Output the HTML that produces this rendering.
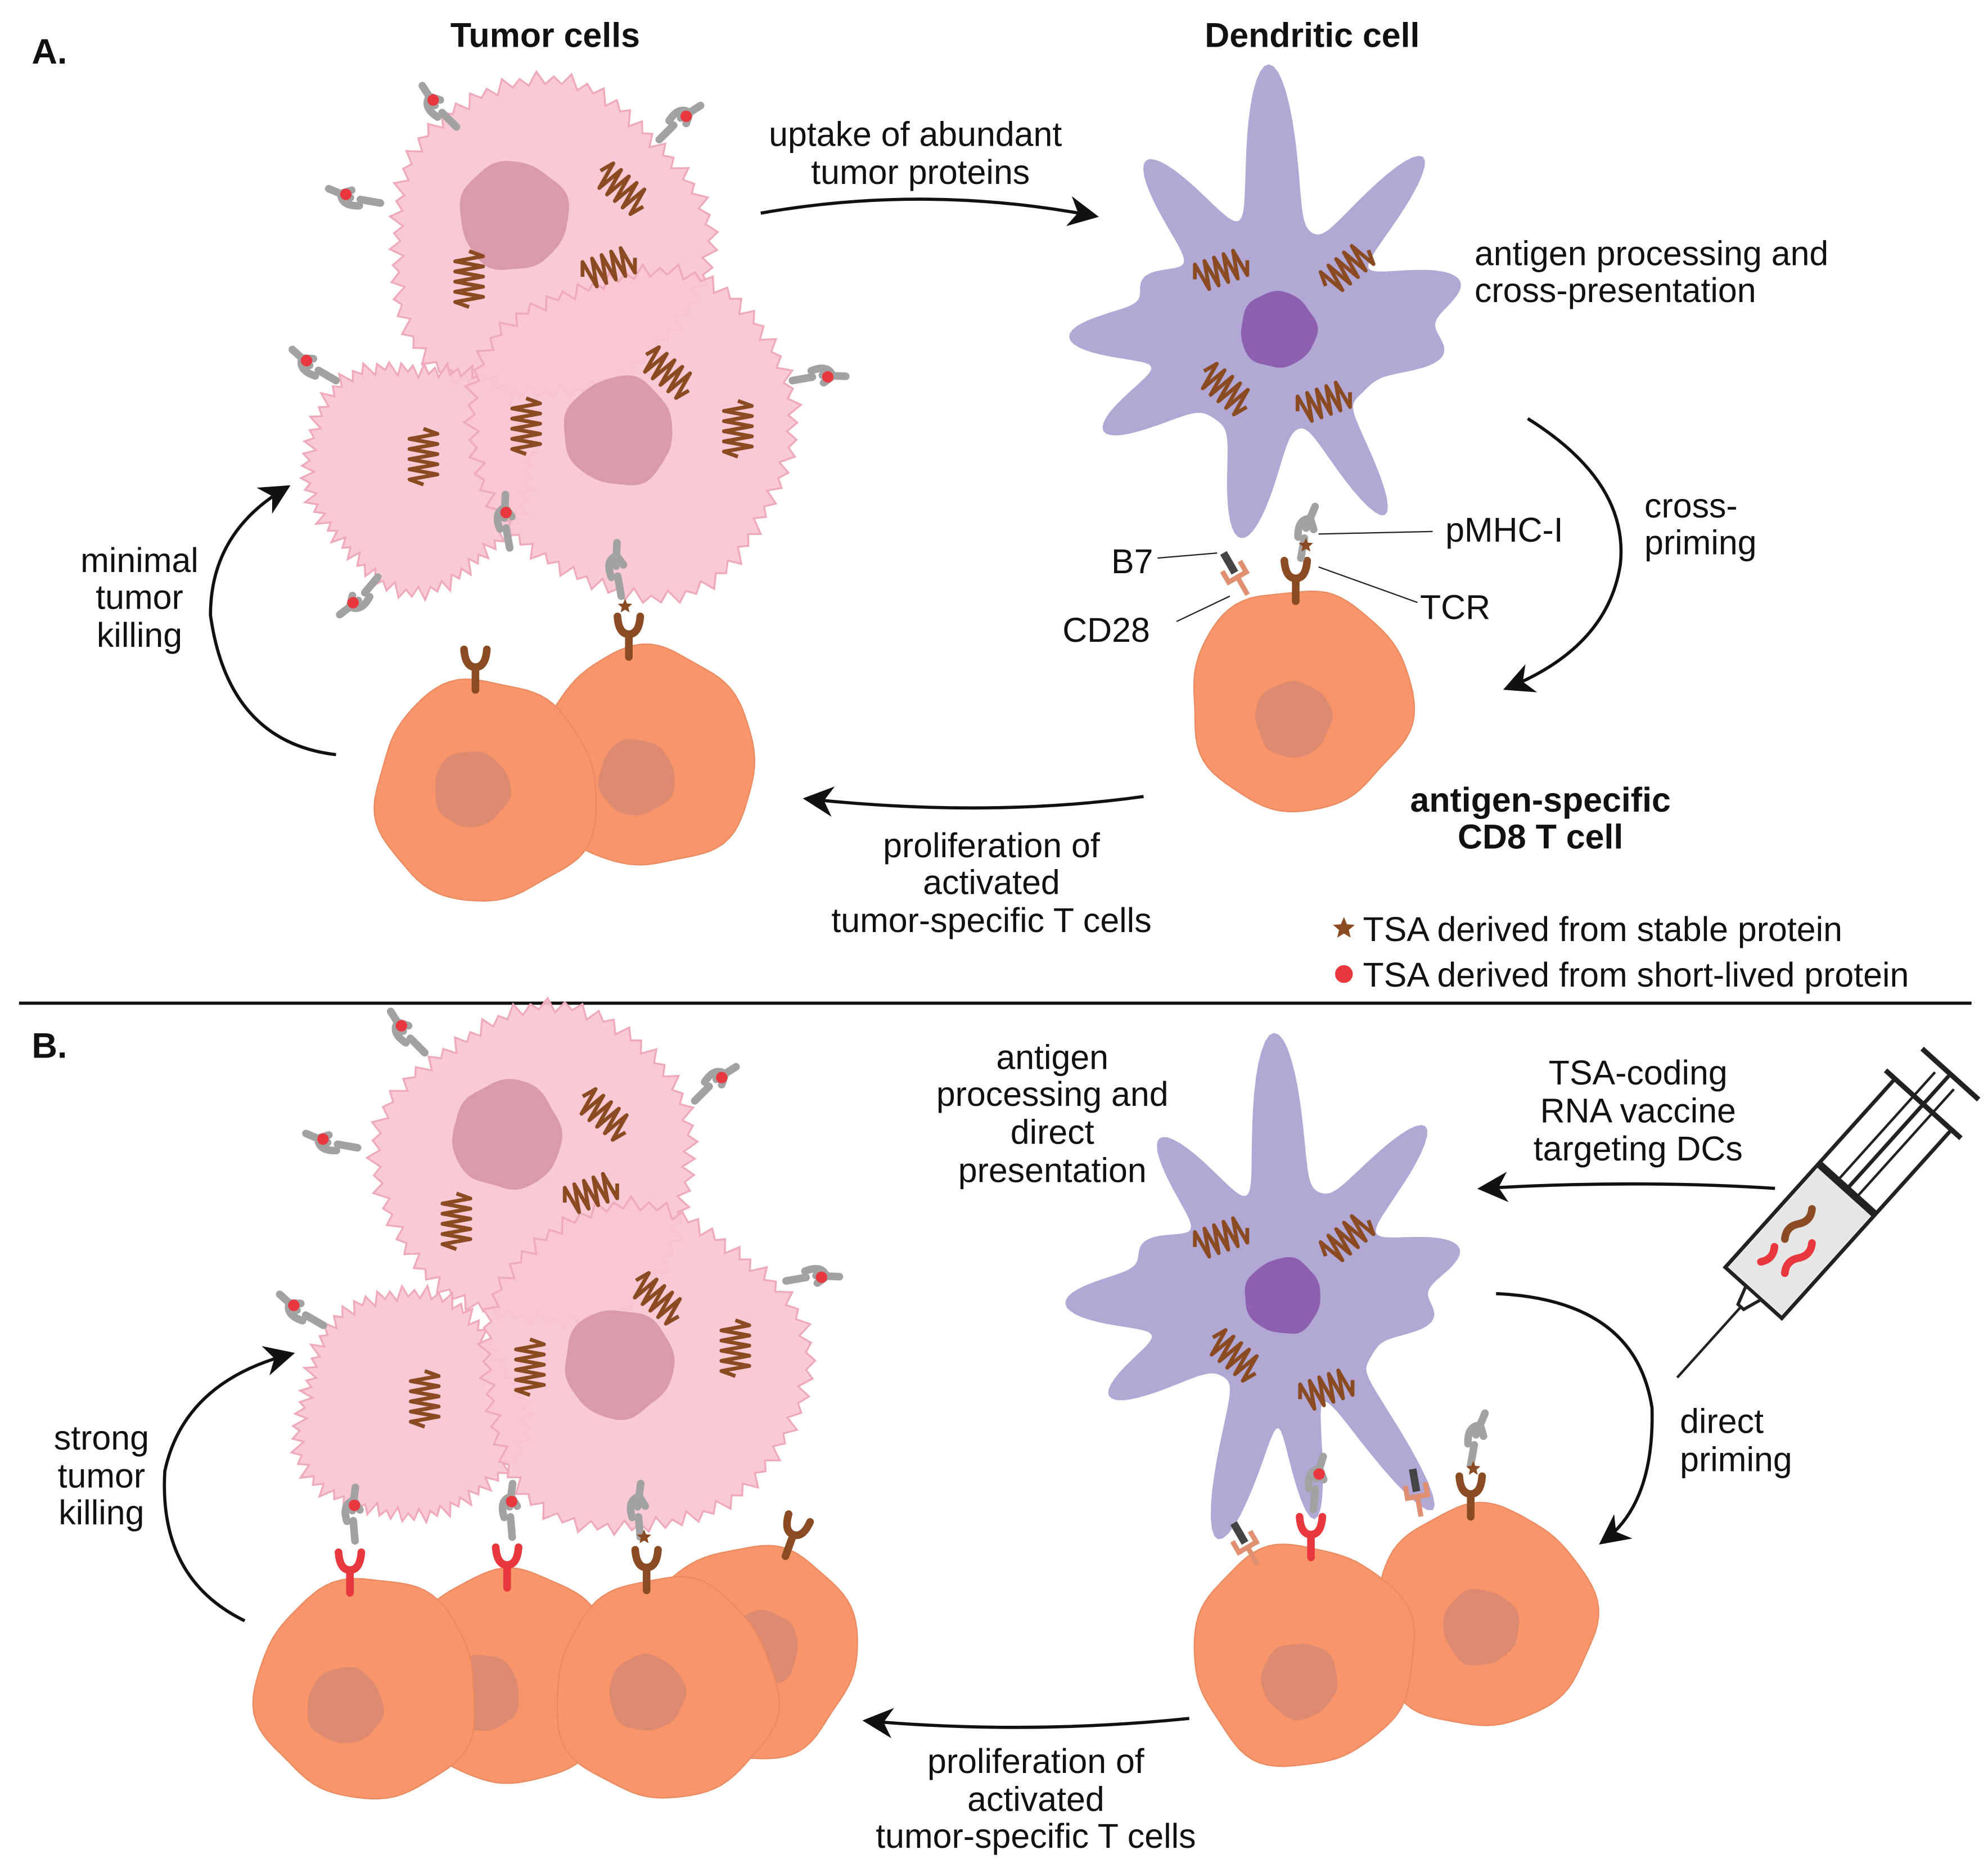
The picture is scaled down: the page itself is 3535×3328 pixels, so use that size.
<!DOCTYPE html>
<html><head><meta charset="utf-8"><style>
html,body{margin:0;padding:0;background:#fff}
svg{display:block}
text{font-family:"Liberation Sans",Arial,sans-serif;fill:#111}
</style></head><body>
<svg id="s" width="3535" height="3328" viewBox="0 0 1568 1476" xmlns="http://www.w3.org/2000/svg">
<defs>
<marker id="ahb" viewBox="0 0 10 10" refX="8" refY="5" markerWidth="24" markerHeight="24" orient="auto" markerUnits="userSpaceOnUse"><path d="M0,0 L10,5 L0,10 L3,5 Z" fill="#111"/></marker>
<g id="sq"><path d="M-24,0 l4,-11 l4,22 l4,-22 l4,22 l4,-22 l4,22 l4,-22 l4,22 l4,-22 l4,22 l4,-11" fill="none" stroke="#8a4b22" stroke-width="3" stroke-linejoin="round"/></g>
<g id="mhc"><path d="M0,0 L0,-16 M-5,-16 Q-8,-30 2,-32 L6,-24 M0,-24 L4,-42" fill="none" stroke="#a2a2a2" stroke-width="6" stroke-linecap="round"/></g>
<g id="tcr"><path d="M0,16 L0,-2 M-9,-16 Q-8,-2 0,-2 Q8,-2 9,-16" fill="none" stroke="#8a4b22" stroke-width="6" stroke-linecap="round"/></g>
<g id="tcrR"><path d="M0,16 L0,-2 M-9,-16 Q-8,-2 0,-2 Q8,-2 9,-16" fill="none" stroke="#e8383d" stroke-width="6" stroke-linecap="round"/></g>
<g id="cd"><path d="M0,16 L0,0 M-8,-10 L-8,0 L8,0 L8,-10" fill="none" stroke="#e09070" stroke-width="4"/><path d="M0,-4 L0,-22" stroke="#444" stroke-width="6"/></g>
</defs>
<g id="g"></g>
</svg>
<script>
var g=document.getElementById('g'),h='';
function spiky(cx,cy,r,seed,n){n=n||60;var d='';for(var i=0;i<n*2;i++){var a=i*Math.PI/n;var rr=(i%2?r+6:r-2)+2*Math.sin(i*1.7+seed)+5*Math.sin(a*3+seed)+3*Math.sin(a*5+seed*2);d+=(i?'L':'M')+(cx+rr*Math.cos(a)).toFixed(1)+','+(cy+rr*Math.sin(a)).toFixed(1);}return d+'Z';}
function blob(cx,cy,r,seed){var d='';for(var i=0;i<90;i++){var a=i*Math.PI/45;var rr=r*(1+0.025*Math.sin(3*a+seed)+0.02*Math.sin(5*a+seed*1.7)+0.012*Math.sin(8*a+seed*2.3));d+=(i?'L':'M')+(cx+rr*Math.cos(a)).toFixed(1)+','+(cy+rr*Math.sin(a)).toFixed(1);}return d+'Z';}
function tumor(cx,cy,r,s){h+='<path d="'+spiky(cx,cy,r,s)+'" fill="#f9c5d1" fill-opacity="0.92" stroke="#eeaabb" stroke-width="1.5"/>';}
function nuc(cx,cy,r,s,c){h+='<path d="'+blob(cx,cy,r,s)+'" fill="'+c+'"/>';}
function tcell(cx,cy,r,s,nx,ny){h+='<path d="'+blob(cx,cy,r,s)+'" fill="#f9956a" stroke="#e98a60" stroke-width="1"/>';nuc(nx,ny,30,s+1,'#dc8a70');}
function dc(cx,cy,s,arms){var base=82;var d='';for(var i=0;i<360;i++){var a=i*Math.PI/180,rr=base+4*Math.sin(a*3+s);arms.forEach(function(m){var da=a-m[0]*Math.PI/180;while(da>Math.PI)da-=2*Math.PI;while(da<-Math.PI)da+=2*Math.PI;rr+=m[1]*Math.exp(-Math.pow(da/m[2],2));});d+=(i?'L':'M')+(cx+rr*Math.cos(a)).toFixed(1)+','+(cy+rr*Math.sin(a)).toFixed(1);}h+='<path d="'+d+'Z" fill="#b2a8d5"/>';nuc(cx,cy,30,s,'#8c60ae');}
function u(id,x,y,r,sc){h+='<use href="#'+id+'" transform="translate('+x+','+y+') rotate('+(r||0)+') scale('+(sc||1)+')"/>';}
function mhc(x,y,r,red){u('mhc',x,y,r);if(red){var a=(r||0)*Math.PI/180;h+='<circle cx="'+(x+2*Math.cos(a)+28*Math.sin(a))+'" cy="'+(y+2*Math.sin(a)-28*Math.cos(a))+'" r="4.5" fill="#e8383d"/>';}}
function star(x,y,r,c){var d='';for(var i=0;i<10;i++){var a=-Math.PI/2+i*Math.PI/5,rr=i%2?r*0.45:r;d+=(i?'L':'M')+(x+rr*Math.cos(a))+','+(y+rr*Math.sin(a));}h+='<path d="'+d+'Z" fill="'+(c||'#8a4b22')+'"/>';}
function T(x,y,t,o){o=o||{};h+='<text x="'+x+'" y="'+y+'" font-size="'+(o.s||27)+'"'+(o.b?' font-weight="bold"':'')+' text-anchor="'+(o.a||'middle')+'">'+t+'</text>';}
function P(d,w){h+='<path d="'+d+'" fill="none" stroke="#111" stroke-width="'+(w||2.5)+'" marker-end="url(#ahb)"/>';}
function L(d){h+='<path d="'+d+'" fill="none" stroke="#222" stroke-width="1"/>';}

/* ---------- Panel A ---------- */
tumor(430,190,122,1);nuc(405,170,43,2,'#d99aa9');
tumor(330,372,86,3);
tumor(500,340,125,4);nuc(488,340,43,5,'#d99aa9');
u('sq',492,150,40);u('sq',482,210,-20);u('sq',370,222,90);u('sq',528,295,40);u('sq',415,338,90);u('sq',582,340,90);u('sq',334,362,90);
mhc(360,100,-45,1);mhc(520,110,45,1);mhc(300,160,-80,1);mhc(265,300,-60,1);mhc(625,300,80,1);mhc(298,455,-140,1);mhc(402,432,-10,1);
mhc(490,470,-10,0);star(493,478,6);
tcell(510,598,86,6,502,613);
tcell(383,624,87,7,372,622);
u('tcr',496,502,0);u('tcr',375,528,0);

dc(1008,260,1,[[-92,125,0.16],[-128,85,0.17],[-50,100,0.15],[-15,65,0.2],[8,45,0.2],[178,85,0.18],[150,75,0.17],[100,85,0.18],[60,90,0.14],[-160,35,0.2]]);
u('sq',965,212,-20);u('sq',1064,210,-40);u('sq',968,308,40);u('sq',1046,316,-20);
tcell(1025,552,87,8,1020,567);
u('cd',976,455,-30);
u('tcr',1022,458,0);mhc(1026,440,10,0);star(1030,430,6);
L('M913,440 L960,436');L('M1040,421 L1130,419');L('M1040,447 L1118,475');L('M928,490 L970,470');
T(893,452,'B7',{a:'middle'});T(1140,427,'pMHC-I',{a:'start'});T(1120,488,'TCR',{a:'start'});T(838,506,'CD28',{a:'start'});

T(25,50,'A.',{b:1,s:28,a:'start'});
T(430,37,'Tumor cells',{b:1});T(1035,37,'Dendritic cell',{b:1});
T(722,115,'uptake of abundant');T(726,145,'tumor proteins');
P('M600,168 Q730,145 862,170');
T(1163,209,'antigen processing and',{a:'start'});T(1163,238,'cross-presentation',{a:'start'});
P('M1205,330 Q1285,380 1278,445 Q1268,510 1190,542');
T(1297,408,'cross-',{a:'start'});T(1297,437,'priming',{a:'start'});
T(1215,640,'antigen-specific',{b:1});T(1215,669,'CD8 T cell',{b:1});
P('M902,628 Q780,645 638,630');
T(782,676,'proliferation of');T(782,705,'activated');T(782,735,'tumor-specific T cells');
T(110,451,'minimal');T(110,480,'tumor');T(110,510,'killing');
P('M265,595 Q180,585 166,485 Q166,420 225,385');
star(1060,732,9);T(1075,742,'TSA derived from stable protein',{a:'start'});
h+='<circle cx="1060" cy="768" r="7" fill="#e8383d"/>';T(1075,778,'TSA derived from short-lived protein',{a:'start'});
h+='<line x1="15" y1="791" x2="1555" y2="791" stroke="#111" stroke-width="2.5"/>';

/* ---------- Panel B ---------- */
T(25,834,'B.',{b:1,s:28,a:'start'});
tumor(425,920,122,11);nuc(400,895,43,12,'#d99aa9');
tumor(322,1110,86,13);
tumor(505,1080,125,14);nuc(488,1075,43,15,'#d99aa9');
u('sq',478,880,40);u('sq',468,940,-20);u('sq',360,965,90);u('sq',520,1025,40);u('sq',418,1080,90);u('sq',580,1065,90);u('sq',335,1105,90);
mhc(335,830,-45,1);mhc(548,868,45,1);mhc(282,905,-80,1);mhc(255,1045,-60,1);mhc(620,1010,80,1);
tcell(592,1302,84,16,600,1300);
tcell(400,1322,84,17,380,1335);
tcell(290,1332,87,18,272,1345);
tcell(525,1332,87,19,510,1335);
mhc(280,1215,-5,1);u('tcrR',276,1240,0);
mhc(404,1212,-5,1);u('tcrR',400,1236,0);
mhc(505,1212,-5,0);star(508,1212,6);u('tcr',510,1238,0);
u('tcr',625,1212,20);

dc(1012,1022,5,[[-92,125,0.16],[-128,80,0.17],[-50,90,0.15],[-15,65,0.2],[8,40,0.2],[178,85,0.18],[150,75,0.17],[105,120,0.15],[82,95,0.12],[55,120,0.12],[-160,35,0.2]]);
u('sq',965,975,-20);u('sq',1064,975,-40);u('sq',975,1070,40);u('sq',1048,1095,-20);
tcell(1170,1275,87,20,1168,1283);
tcell(1028,1305,87,21,1025,1325);
u('cd',984,1220,-30);
mhc(1036,1190,5,1);u('tcrR',1034,1212,0);
u('cd',1118,1180,-10);
mhc(1160,1155,10,0);star(1162,1158,6);u('tcr',1160,1180,0);

T(830,843,'antigen');T(830,872,'processing and');T(830,902,'direct');T(830,932,'presentation');
T(1292,855,'TSA-coding');T(1292,885,'RNA vaccine');T(1292,915,'targeting DCs');
P('M1400,937 Q1290,930 1170,937');
h+='<g transform="translate(1450,945) rotate(42)">'+
'<rect x="-30" y="-100" width="60" height="200" fill="#fff" stroke="#222" stroke-width="3"/>'+
'<rect x="-28" y="-10" width="56" height="108" fill="#e6e6e6"/>'+
'<line x1="-30" y1="-10" x2="30" y2="-10" stroke="#222" stroke-width="6"/>'+
'<line x1="0" y1="-10" x2="0" y2="-130" stroke="#222" stroke-width="3"/><line x1="-10" y1="-10" x2="-10" y2="-125" stroke="#222" stroke-width="2"/><line x1="10" y1="-10" x2="10" y2="-125" stroke="#222" stroke-width="2"/>'+
'<line x1="-30" y1="-132" x2="30" y2="-132" stroke="#222" stroke-width="4"/><line x1="-40" y1="-100" x2="40" y2="-100" stroke="#222" stroke-width="4"/>'+
'<path d="M-8,100 L8,100 L3,115 L-3,115 Z" fill="#fff" stroke="#222" stroke-width="2.5"/><line x1="0" y1="115" x2="0" y2="190" stroke="#222" stroke-width="2"/>'+
'<path d="M-10,20 q6,8 0,16 q-6,8 0,16" stroke="#8a4b22" stroke-width="6" fill="none" stroke-linecap="round"/>'+
'<path d="M8,40 q6,8 0,16 q-6,8 0,16" stroke="#e8383d" stroke-width="6" fill="none" stroke-linecap="round"/>'+
'<path d="M-12,62 q6,8 0,16" stroke="#e8383d" stroke-width="6" fill="none" stroke-linecap="round"/></g>';
P('M1180,1020 Q1290,1025 1303,1110 Q1305,1185 1265,1215');
T(1325,1130,'direct',{a:'start'});T(1325,1160,'priming',{a:'start'});
P('M938,1355 Q810,1368 685,1357');
T(817,1398,'proliferation of');T(817,1428,'activated');T(817,1457,'tumor-specific T cells');
T(80,1143,'strong');T(80,1173,'tumor');T(80,1202,'killing');
P('M193,1278 Q125,1245 130,1160 Q145,1090 228,1068');
g.innerHTML=h;
</script>
</body></html>
